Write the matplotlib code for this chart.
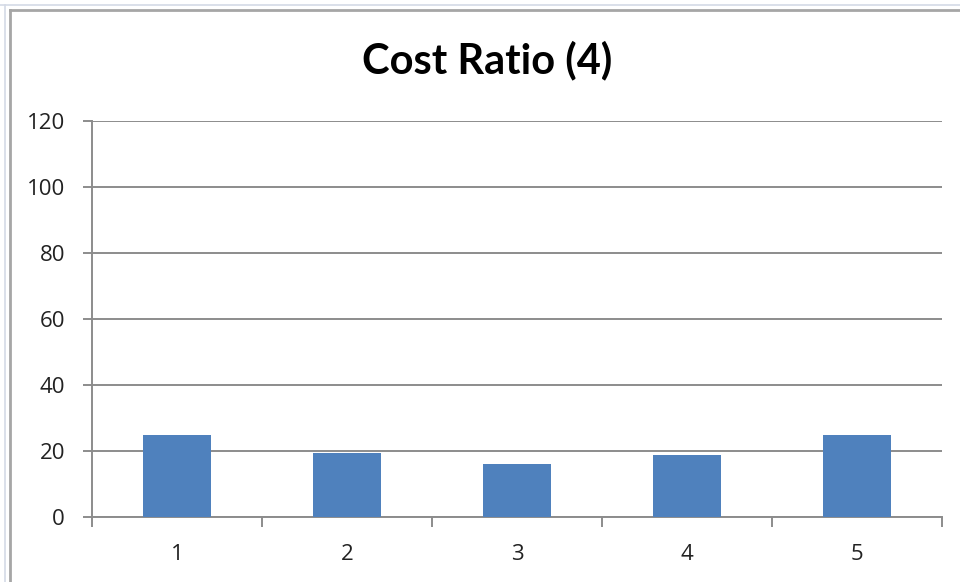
import matplotlib
matplotlib.use("Agg")
import matplotlib.pyplot as plt
from matplotlib.lines import Line2D
import numpy as np

# Cost ratio per case
categories = ["1", "2", "3", "4", "5"]
values = [25.0, 19.6, 16.0, 19.0, 25.0]
y_ticks = [0, 20, 40, 60, 80, 100, 120]
title = "Cost Ratio (4)"

bar_color = "#4F81BD"
grid_color = "#8C8C8C"
label_font = ["Open Sans", "DejaVu Sans"]
title_font = ["Lato", "DejaVu Sans"]

fig = plt.figure(figsize=(9.6, 5.82), dpi=100)
fig.patch.set_facecolor("white")

# worksheet lines behind the chart object, and the chart frame
W, H = 960, 582
fig.add_artist(Line2D([0, 1], [1 - 5 / H, 1 - 5 / H], transform=fig.transFigure,
                      color="#D4DAE6", lw=1.2))
fig.add_artist(Line2D([5 / W, 5 / W], [0, 1 - 5 / H], transform=fig.transFigure,
                      color="#D4DAE6", lw=1.2))
fig.add_artist(Line2D([10 / W, 1], [1 - 9.5 / H, 1 - 9.5 / H], transform=fig.transFigure,
                      color="#A6A6A6", lw=2.0))
fig.add_artist(Line2D([10 / W, 10 / W], [0, 1 - 9.5 / H], transform=fig.transFigure,
                      color="#A6A6A6", lw=2.0))

ax = fig.add_axes([92 / W, 1 - 517.3 / H, (942 - 92) / W, (517.3 - 121) / H])

x = np.arange(1, len(categories) + 1)
ax.bar(x, values, width=0.4, color=bar_color, zorder=3)

ax.set_xlim(0.5, len(categories) + 0.5)
ax.set_ylim(0, 120)

# horizontal gridlines
ax.set_yticks(y_ticks)
ax.yaxis.grid(True, color=grid_color, lw=1.4, zorder=1)
ax.set_axisbelow(True)

# category boundaries as major ticks, labels on minor ticks at the centres
ax.set_xticks(np.arange(0.5, len(categories) + 1, 1.0))
ax.set_xticklabels([])
ax.set_xticks(x, minor=True)
ax.set_xticklabels(categories, minor=True, fontsize=16, family=label_font, color="#222222")
ax.tick_params(axis="x", which="major", length=7, width=1.4, color=grid_color, direction="out")
ax.tick_params(axis="x", which="minor", length=0, pad=19.5)

ax.set_yticklabels([str(t) for t in y_ticks], fontsize=16, family=label_font, color="#222222")
ax.tick_params(axis="y", length=6.5, width=1.4, color=grid_color, direction="out", pad=13)

for s in ("top", "right"):
    ax.spines[s].set_visible(False)
for s in ("left", "bottom"):
    ax.spines[s].set_color(grid_color)
    ax.spines[s].set_linewidth(1.4)

fig.text(487 / W, 1 - 60 / H, title, ha="center", va="center",
         fontsize=30, fontweight="bold", family=title_font, color="black")

fig.savefig("out.png", dpi=100, facecolor="white")
